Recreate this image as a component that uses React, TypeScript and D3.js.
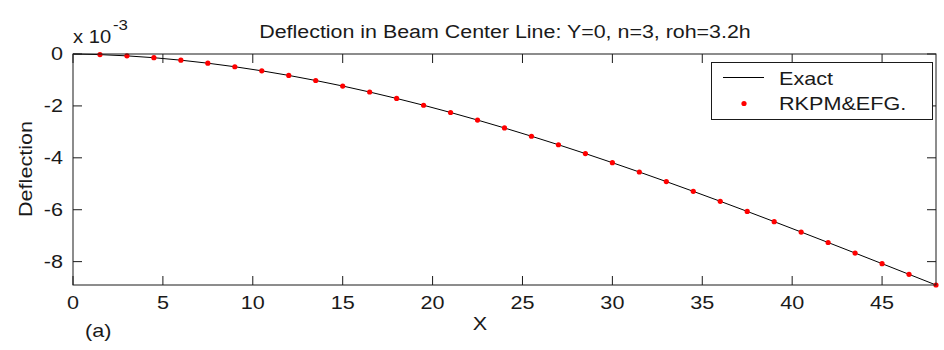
import React from 'react';
import * as d3 from 'd3';

// node positions along the beam centre line
const xs = [0, 1.5, 3, 4.5, 6, 7.5, 9, 10.5, 12, 13.5, 15, 16.5, 18, 19.5, 21, 22.5, 24,
  25.5, 27, 28.5, 30, 31.5, 33, 34.5, 36, 37.5, 39, 40.5, 42, 43.5, 45, 46.5, 48];
// deflection, units of 1e-3
const exact = [0, -0.024, -0.072, -0.143, -0.238, -0.354, -0.491, -0.648, -0.825, -1.021,
  -1.234, -1.465, -1.713, -1.975, -2.253, -2.545, -2.85, -3.168, -3.497, -3.837, -4.188,
  -4.547, -4.916, -5.292, -5.675, -6.064, -6.459, -6.859, -7.263, -7.669, -8.078, -8.489, -8.9];
const rkpm = [-0.024, -0.072, -0.143, -0.238, -0.354, -0.491, -0.648, -0.825, -1.021,
  -1.234, -1.465, -1.713, -1.975, -2.253, -2.545, -2.85, -3.168, -3.497, -3.837, -4.188,
  -4.547, -4.916, -5.292, -5.675, -6.064, -6.459, -6.859, -7.263, -7.669, -8.078, -8.489, -8.9];
const xTicks = [0, 5, 10, 15, 20, 25, 30, 35, 40, 45];
const yTicks = [0, -2, -4, -6, -8];

const W = 944, H = 350;
const m = { left: 73, right: 8, top: 54, bottom: 65 };
const font = 'Arial, "Liberation Sans", Helvetica, sans-serif';
const ink = '#1a1a1a';

// the original text is a bit wide, so stretch along the baseline
const T = ({ x, y, size = 18, anchor = 'start', rot = 0, sx = 1.2, dy, children }: any) => (
  <text transform={`translate(${x},${y}) rotate(${rot}) scale(${sx},1)`} textAnchor={anchor}
    fontSize={size} dy={dy}>{children}</text>
);

export default function App() {
  const x = d3.scaleLinear().domain([0, 48]).range([m.left, W - m.right]);
  const y = d3.scaleLinear().domain([-8.9, 0]).range([H - m.bottom, m.top]);
  const line = d3.line<number>().x((d, i) => x(xs[i])).y(d => y(d));
  const x0 = x(0), x1 = x(48), y0 = y(0), y1 = y(-8.9);
  const tk = 9;

  return (
    <svg width={W} height={H} style={{ position: 'absolute', left: 0, top: 0, background: '#fff' }}
      fontFamily={font} fill={ink}>
      <T x={505} y={38} anchor="middle" sx={1.19}>Deflection in Beam Center Line: Y=0, n=3, roh=3.2h</T>
      <T x={x0} y={43} sx={1.12}>x 10</T>
      <T x={113} y={30} size={14}>-3</T>

      <path d={line(exact) || ''} fill="none" stroke="#000" strokeWidth={1} />
      {rkpm.map((v, i) => (
        <circle key={i} cx={x(xs[i + 1])} cy={y(v)} r={2.6} fill="#ff0000" />
      ))}

      <rect x={x0} y={y0} width={x1 - x0} height={y1 - y0} fill="none" stroke={ink} strokeWidth={1} />
      {xTicks.map(t => (
        <g key={'x' + t}>
          <line x1={x(t)} x2={x(t)} y1={y1} y2={y1 - tk} stroke={ink} />
          <line x1={x(t)} x2={x(t)} y1={y0} y2={y0 + tk} stroke={ink} />
          <T x={x(t)} y={309} anchor="middle">{t}</T>
        </g>
      ))}
      {yTicks.map(t => (
        <g key={'y' + t}>
          <line x1={x0} x2={x0 + tk} y1={y(t)} y2={y(t)} stroke={ink} />
          <line x1={x1} x2={x1 - tk} y1={y(t)} y2={y(t)} stroke={ink} />
          <T x={63} y={y(t)} dy="0.36em" anchor="end">{t}</T>
        </g>
      ))}

      <T x={480} y={330} anchor="middle">X</T>
      <T x={85} y={337}>(a)</T>
      <T x={32} y={169} rot={-90} anchor="middle">Deflection</T>

      <g>
        <rect x={711.5} y={62.5} width={221} height={57} fill="#fff" stroke={ink} strokeWidth={1} />
        <line x1={723} x2={764} y1={77.5} y2={77.5} stroke="#000" />
        <T x={779} y={85}>Exact</T>
        <circle cx={744} cy={103.5} r={2.6} fill="#ff0000" />
        <T x={779} y={110}>RKPM&amp;EFG.</T>
      </g>
    </svg>
  );
}
